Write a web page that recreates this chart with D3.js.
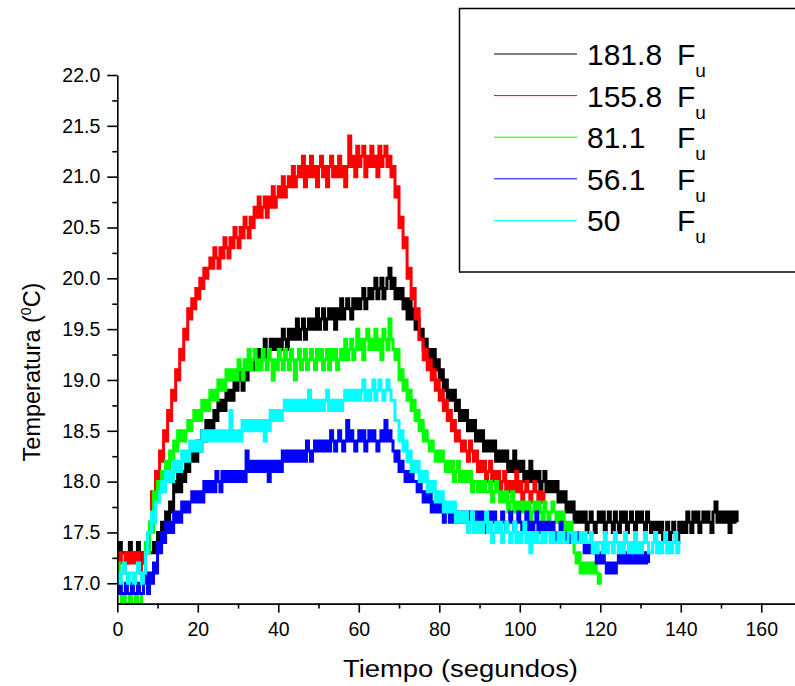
<!DOCTYPE html>
<html>
<head>
<meta charset="utf-8">
<script src="https://cdn.jsdelivr.net/npm/d3@7"></script>
<style>
  body { margin: 0; background: #fff; }
  svg { display: block; }
  text { font-family: Arial, "Liberation Sans", sans-serif; fill: #000; }
</style>
</head>
<body>
<svg id="chart" width="795" height="686"></svg>
<script>
// Temperature readings (°C), one every STEP seconds from t = 0
const STEP = 0.5;

const labels = ["181.8", "155.8", "81.1", "56.1", "50"];
const colors = ["#000000", "#ff0000", "#00ff00", "#0000ff", "#00ffff"];

const xTicks = [0, 20, 40, 60, 80, 100, 120, 140, 160];
const yTicks = [17.0, 17.5, 18.0, 18.5, 19.0, 19.5, 20.0, 20.5, 21.0, 21.5, 22.0];

const fu181 = [
  17.3,17.4,17.3,17.3,17.2,17.3,17.4,17.3,17.3,17.3,
  17.4,17.3,17.2,17.3,17.4,17.3,17.3,17.3,17.4,17.3,
  17.5,17.4,17.6,17.5,17.7,17.6,17.8,17.7,18.0,17.9,
  18.1,17.9,18.1,18.0,18.2,18.1,18.3,18.2,18.3,18.2,
  18.4,18.3,18.5,18.4,18.6,18.5,18.6,18.5,18.7,18.6,
  18.8,18.7,18.8,18.7,18.9,18.8,18.9,18.8,19.0,18.9,
  19.0,19.1,18.9,19.1,19.0,19.2,19.1,19.2,19.1,19.3,
  19.2,19.3,19.2,19.4,19.2,19.3,19.4,19.3,19.4,19.3,
  19.4,19.3,19.5,19.4,19.3,19.5,19.4,19.5,19.4,19.6,
  19.4,19.5,19.6,19.4,19.5,19.6,19.5,19.6,19.5,19.7,
  19.5,19.6,19.7,19.5,19.6,19.7,19.6,19.7,19.5,19.7,
  19.6,19.8,19.6,19.7,19.8,19.7,19.6,19.8,19.7,19.8,
  19.7,19.8,19.9,19.7,19.8,19.9,19.8,19.9,20.0,19.8,
  19.9,20.0,19.8,19.9,20.0,20.1,19.9,20.0,19.8,19.9,
  19.8,19.9,19.7,19.8,19.6,19.8,19.6,19.7,19.5,19.6,
  19.4,19.5,19.3,19.4,19.2,19.3,19.1,19.3,19.1,19.2,
  19.0,19.1,18.9,19.0,18.8,18.9,18.8,18.9,18.7,18.8,
  18.6,18.7,18.6,18.7,18.5,18.6,18.5,18.6,18.4,18.5,
  18.4,18.5,18.3,18.4,18.3,18.4,18.3,18.4,18.2,18.3,
  18.2,18.3,18.2,18.3,18.1,18.2,18.1,18.3,18.1,18.2,
  18.1,18.2,18.0,18.1,18.0,18.2,18.0,18.1,18.0,18.1,
  17.9,18.0,18.1,17.9,18.0,17.9,18.0,17.9,18.0,17.8,
  17.9,17.8,17.9,17.7,17.8,17.7,17.8,17.6,17.7,17.6,
  17.7,17.6,17.7,17.5,17.6,17.7,17.6,17.5,17.6,17.7,
  17.6,17.7,17.5,17.6,17.7,17.6,17.5,17.7,17.6,17.5,
  17.7,17.6,17.7,17.5,17.6,17.7,17.6,17.5,17.7,17.6,
  17.7,17.6,17.5,17.7,17.6,17.5,17.6,17.4,17.6,17.5,
  17.6,17.4,17.5,17.6,17.4,17.5,17.6,17.5,17.4,17.6,
  17.5,17.6,17.5,17.7,17.6,17.5,17.7,17.6,17.7,17.5,
  17.6,17.7,17.6,17.7,17.6,17.5,17.7,17.8,17.6,17.7,
  17.6,17.7,17.6,17.7,17.5,17.7,17.6,17.7,17.6
];

const fu155 = [
  17.2,17.3,17.2,17.1,17.3,17.2,17.3,17.2,17.3,17.2,
  17.3,17.1,17.2,17.3,17.3,17.5,17.6,17.9,17.8,18.1,
  18.0,18.3,18.2,18.5,18.4,18.7,18.6,18.9,18.8,19.1,
  19.0,19.3,19.2,19.5,19.4,19.7,19.6,19.8,19.7,19.9,
  19.8,20.0,19.9,20.1,20.0,20.1,20.2,20.1,20.3,20.2,
  20.1,20.3,20.2,20.4,20.3,20.2,20.4,20.3,20.5,20.4,
  20.3,20.5,20.4,20.6,20.5,20.4,20.6,20.5,20.7,20.6,
  20.8,20.6,20.7,20.8,20.6,20.8,20.7,20.9,20.7,20.8,
  20.9,20.8,21.0,20.8,20.9,21.0,20.9,21.1,20.9,21.0,
  21.1,21.0,21.2,20.9,21.1,21.0,21.2,21.0,21.1,20.9,
  21.1,21.2,21.0,21.1,20.9,21.1,21.2,21.0,21.1,21.0,
  21.2,21.0,21.1,20.9,21.1,21.4,21.1,21.2,21.0,21.3,
  21.1,21.2,21.3,21.0,21.2,21.1,21.3,21.1,21.2,21.0,
  21.3,21.1,21.2,21.3,21.1,21.2,21.0,21.1,20.8,20.9,
  20.5,20.6,20.3,20.4,20.0,20.1,19.8,19.9,19.6,19.7,
  19.4,19.4,19.2,19.3,19.1,19.2,19.0,19.1,18.9,19.0,
  18.8,18.9,18.7,18.8,18.6,18.7,18.5,18.6,18.4,18.5,
  18.4,18.3,18.4,18.3,18.2,18.4,18.3,18.2,18.3,18.1,
  18.2,18.1,18.2,18.0,18.1,18.2,18.0,18.1,18.0,18.1,
  17.9,18.0,18.1,17.9,18.0,17.9,18.0,17.9,18.1,17.9,
  18.0,17.8,17.9,18.0,17.9,17.8,17.9,18.0,17.9,17.8,
  17.9,17.8,17.9
];

const fu81 = [
  17.2,16.9,16.8,16.9,16.8,16.8,16.9,16.8,16.8,16.9,
  16.8,16.8,16.9,17.1,17.4,17.3,17.6,17.5,17.9,17.8,
  18.0,17.9,18.1,18.0,18.2,18.1,18.3,18.2,18.4,18.3,
  18.5,18.4,18.5,18.4,18.5,18.6,18.5,18.6,18.7,18.6,
  18.7,18.6,18.8,18.7,18.8,18.7,18.9,18.8,18.9,18.8,
  19.0,18.9,19.0,18.9,19.1,19.0,19.1,19.0,19.1,19.0,
  19.2,19.1,19.0,19.2,19.1,19.3,19.1,19.2,19.3,19.1,
  19.2,19.1,19.3,19.2,19.1,19.3,19.2,19.0,19.2,19.1,
  19.3,19.2,19.1,19.3,19.2,19.1,19.3,19.2,19.0,19.2,
  19.3,19.1,19.2,19.3,19.1,19.2,19.3,19.2,19.1,19.3,
  19.2,19.3,19.1,19.2,19.3,19.1,19.3,19.2,19.3,19.1,
  19.2,19.3,19.2,19.4,19.2,19.3,19.4,19.2,19.3,19.5,
  19.3,19.4,19.2,19.4,19.5,19.3,19.4,19.3,19.5,19.3,
  19.4,19.2,19.5,19.4,19.3,19.6,19.4,19.3,19.2,19.3,
  19.0,19.1,18.9,19.0,18.8,18.9,18.7,18.8,18.6,18.7,
  18.5,18.6,18.4,18.5,18.4,18.3,18.4,18.3,18.2,18.3,
  18.2,18.3,18.2,18.1,18.2,18.1,18.2,18.0,18.1,18.2,
  18.0,18.1,18.0,18.1,18.0,18.1,17.9,18.0,18.0,17.9,
  18.0,17.9,18.0,17.9,17.9,18.0,17.8,17.9,18.0,17.9,
  17.8,17.9,17.8,17.9,17.7,17.8,17.9,17.7,17.8,17.7,
  17.8,17.7,17.8,17.7,17.8,17.6,17.7,17.8,17.7,17.8,
  17.7,17.6,17.8,17.7,17.6,17.7,17.8,17.7,17.6,17.7,
  17.6,17.7,17.5,17.6,17.5,17.6,17.5,17.3,17.2,17.3,
  17.1,17.2,17.1,17.2,17.1,17.2,17.1,17.2,17.1,17.0,
  17.1
];

const fu56 = [
  16.9,17.0,16.9,16.9,17.0,16.9,16.9,17.0,16.9,16.9,
  17.0,16.9,16.9,17.0,17.1,16.9,17.1,17.0,17.2,17.1,
  17.4,17.3,17.5,17.4,17.6,17.5,17.6,17.5,17.7,17.6,
  17.7,17.6,17.8,17.7,17.8,17.7,17.8,17.9,17.8,17.9,
  17.8,17.9,17.8,18.0,17.9,18.0,17.9,18.0,17.9,18.1,
  18.0,17.9,18.1,18.0,18.1,18.0,18.1,18.0,18.1,18.0,
  18.1,18.0,18.1,18.0,18.3,18.1,18.2,18.1,18.2,18.1,
  18.2,18.1,18.2,18.1,18.2,18.0,18.2,18.1,18.2,18.1,
  18.2,18.1,18.3,18.2,18.3,18.2,18.3,18.2,18.3,18.2,
  18.3,18.2,18.3,18.2,18.4,18.3,18.2,18.3,18.4,18.3,
  18.4,18.3,18.4,18.3,18.4,18.3,18.5,18.4,18.3,18.4,
  18.5,18.4,18.3,18.4,18.6,18.4,18.5,18.4,18.3,18.4,
  18.5,18.4,18.5,18.3,18.4,18.5,18.4,18.5,18.4,18.3,
  18.4,18.5,18.4,18.6,18.4,18.5,18.4,18.3,18.2,18.3,
  18.1,18.2,18.1,18.0,18.1,18.0,18.1,18.0,18.0,17.9,
  18.0,17.9,17.8,17.9,17.8,17.9,17.7,17.8,17.7,17.8,
  17.7,17.8,17.6,17.7,17.7,17.6,17.7,17.6,17.7,17.6,
  17.7,17.6,17.7,17.6,17.6,17.7,17.6,17.7,17.6,17.7,
  17.6,17.7,17.6,17.5,17.6,17.7,17.6,17.7,17.6,17.5,
  17.6,17.7,17.6,17.5,17.6,17.7,17.6,17.5,17.6,17.7,
  17.6,17.5,17.6,17.7,17.5,17.6,17.5,17.6,17.7,17.5,
  17.6,17.5,17.6,17.5,17.6,17.5,17.6,17.5,17.4,17.5,
  17.6,17.5,17.4,17.5,17.5,17.4,17.5,17.4,17.5,17.4,
  17.5,17.4,17.3,17.4,17.3,17.4,17.3,17.4,17.2,17.3,
  17.2,17.3,17.2,17.1,17.2,17.1,17.2,17.1,17.2,17.3,
  17.2,17.3,17.2,17.3,17.2,17.3,17.2,17.3,17.2,17.3,
  17.2,17.3,17.2,17.3,17.2
];

const fu50 = [
  17.1,17.0,17.1,17.2,17.1,17.0,17.1,17.1,17.0,17.1,
  17.2,17.1,17.0,17.1,17.3,17.5,17.5,17.7,17.6,17.8,
  17.8,17.9,18.0,17.9,18.1,18.0,18.1,18.0,18.2,18.1,
  18.2,18.1,18.3,18.2,18.3,18.2,18.4,18.3,18.4,18.3,
  18.4,18.3,18.5,18.4,18.5,18.4,18.5,18.4,18.5,18.4,
  18.5,18.4,18.5,18.4,18.5,18.4,18.7,18.4,18.5,18.4,
  18.5,18.4,18.6,18.5,18.6,18.5,18.6,18.5,18.6,18.5,
  18.6,18.5,18.6,18.4,18.6,18.5,18.7,18.6,18.7,18.6,
  18.7,18.6,18.7,18.8,18.7,18.8,18.7,18.8,18.7,18.8,
  18.7,18.8,18.7,18.8,18.7,18.9,18.7,18.8,18.7,18.8,
  18.7,18.8,18.7,18.8,18.9,18.7,18.8,18.7,18.8,18.7,
  18.8,18.7,18.8,18.9,18.8,18.9,18.8,18.9,18.8,18.9,
  18.8,18.9,19.0,18.8,18.9,18.8,18.9,19.0,18.8,18.9,
  19.0,18.9,18.8,18.9,19.0,18.9,18.8,18.8,18.6,18.6,
  18.4,18.5,18.3,18.4,18.2,18.3,18.1,18.2,18.1,18.2,
  18.0,18.1,18.0,18.1,17.9,18.0,17.9,18.0,17.8,17.9,
  17.8,17.9,17.7,17.8,17.7,17.8,17.7,17.8,17.6,17.7,
  17.6,17.7,17.6,17.7,17.5,17.6,17.7,17.5,17.6,17.5,
  17.6,17.5,17.6,17.7,17.5,17.6,17.4,17.5,17.6,17.5,
  17.6,17.4,17.5,17.6,17.5,17.4,17.5,17.6,17.4,17.5,
  17.4,17.5,17.6,17.4,17.5,17.3,17.5,17.4,17.5,17.4,
  17.4,17.5,17.4,17.5,17.5,17.4,17.5,17.4,17.4,17.5,
  17.4,17.5,17.4,17.4,17.5,17.5,17.4,17.5,17.4,17.4,
  17.5,17.4,17.5,17.4,17.4,17.5,17.3,17.4,17.3,17.4,
  17.4,17.3,17.5,17.3,17.4,17.4,17.3,17.5,17.4,17.3,
  17.4,17.3,17.5,17.4,17.3,17.4,17.3,17.5,17.3,17.4,
  17.3,17.4,17.5,17.4,17.3,17.3,17.4,17.5,17.3,17.4,
  17.3,17.4,17.5,17.3,17.4,17.3,17.4,17.5,17.3,17.4,
  17.4
];

const seriesValues = [fu181, fu155, fu81, fu56, fu50];

const series = labels.map((label, i) => ({
  label,
  color: colors[i],
  points: seriesValues[i].map((v, k) => ({ t: k * STEP, v }))
}));

const svg = d3.select("#chart");
svg.append("rect").attr("width", 795).attr("height", 686).attr("fill", "#fff");

const x = d3.scaleLinear().domain([0, 170]).range([117.3, 801.5]);
const y = d3.scaleLinear().domain([16.8, 22.0]).range([603.6, 75]);

// data lines, drawn in legend order so the last series sits on top.
// Readings are held until the next sample (step curve); the wide stroke
// turns the rapid 0.1 °C flicker into solid bands.
const line = d3.line().curve(d3.curveStepAfter).x(d => x(d.t)).y(d => y(d.v));
svg.append("g")
  .selectAll("path")
  .data(series)
  .join("path")
  .attr("fill", "none")
  .attr("stroke", d => d.color)
  .attr("stroke-width", 3)
  .attr("stroke-linejoin", "miter")
  .attr("d", d => line(d.points));

// axes
const axisStyle = g => {
  g.selectAll("path, line").attr("stroke", "#000").attr("stroke-width", 1.6);
  g.selectAll("text").attr("font-size", 19.5).attr("fill", "#000")
    .attr("font-family", "Arial, 'Liberation Sans', sans-serif");
};

const xAxis = svg.append("g").attr("transform", `translate(0,${y(16.8)})`);
xAxis.call(d3.axisBottom(x).tickValues(xTicks).tickSize(9).tickSizeOuter(0)
  .tickPadding(10).tickFormat(d3.format("d")));
xAxis.call(axisStyle);
svg.append("g").attr("transform", `translate(0,${y(16.8)})`)
  .call(d3.axisBottom(x).tickValues(d3.range(10, 170, 20)).tickSize(5).tickSizeOuter(0).tickFormat(""))
  .call(axisStyle)
  .select(".domain").remove();

const yAxis = svg.append("g").attr("transform", `translate(${x(0)},0)`);
yAxis.call(d3.axisLeft(y).tickValues(yTicks).tickSize(10).tickSizeOuter(0)
  .tickPadding(7).tickFormat(d3.format(".1f")));
yAxis.call(axisStyle);
svg.append("g").attr("transform", `translate(${x(0)},0)`)
  .call(d3.axisLeft(y).tickValues(d3.range(17.25, 22, 0.5)).tickSize(5).tickSizeOuter(0).tickFormat(""))
  .call(axisStyle)
  .select(".domain").remove();

// axis titles
svg.append("text")
  .attr("x", 460.5).attr("y", 677)
  .attr("text-anchor", "middle")
  .attr("font-size", 23.5)
  .attr("textLength", 235).attr("lengthAdjust", "spacingAndGlyphs")
  .text("Tiempo (segundos)");

const yTitle = svg.append("text")
  .attr("transform", "translate(40,372) rotate(-90)")
  .attr("text-anchor", "middle")
  .attr("font-size", 23.5);
yTitle.append("tspan").text("Temperatura (");
yTitle.append("tspan").attr("font-size", 14).attr("dy", -9).text("0");
yTitle.append("tspan").attr("dy", 9).text("C)");

// legend
const legend = svg.append("g");
legend.append("rect")
  .attr("x", 459.5).attr("y", 8.5).attr("width", 400).attr("height", 263.5)
  .attr("fill", "#fff").attr("stroke", "#000").attr("stroke-width", 1.5);

const rowY = i => 54 + i * 41.6;
const rows = legend.selectAll("g.row").data(series).join("g").attr("class", "row");
rows.append("line")
  .attr("x1", 494).attr("x2", 577)
  .attr("y1", (d, i) => rowY(i)).attr("y2", (d, i) => rowY(i))
  .attr("stroke", d => d.color).attr("stroke-width", 1);
rows.append("text")
  .attr("x", 587).attr("y", (d, i) => rowY(i) + 11)
  .attr("font-size", 30)
  .text(d => d.label);
const fu = rows.append("text")
  .attr("x", 677).attr("y", (d, i) => rowY(i) + 11)
  .attr("font-size", 30);
fu.append("tspan").text("F");
fu.append("tspan").attr("font-size", 19).attr("dy", 12).text("u");
</script>
</body>
</html>
